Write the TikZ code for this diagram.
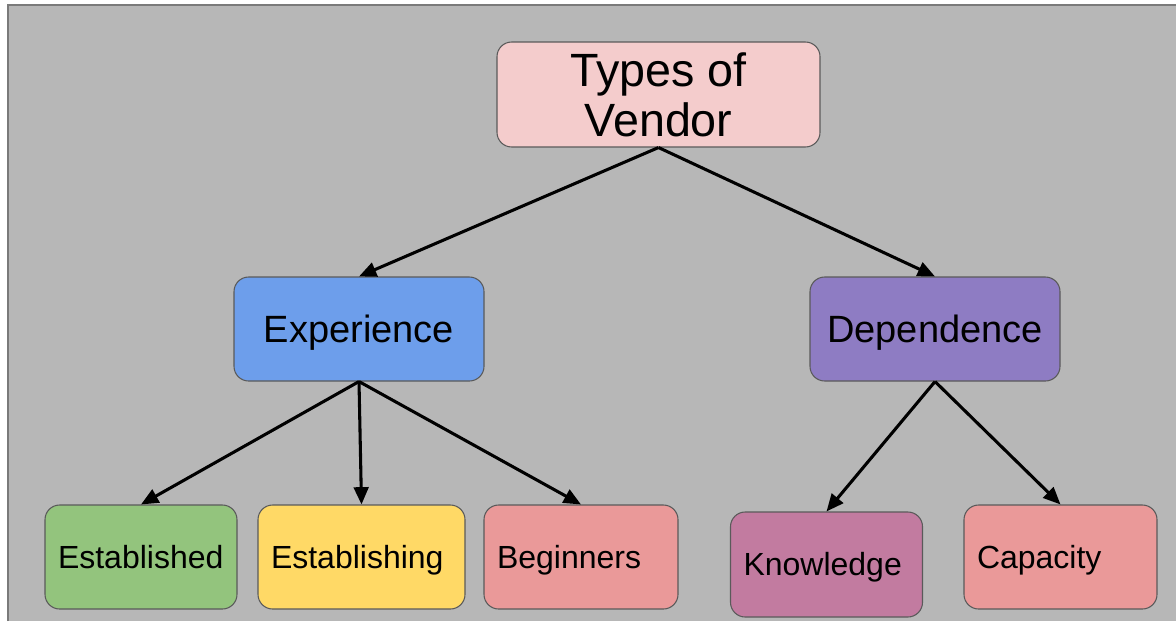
\documentclass[tikz,border=0pt]{standalone}
\usepackage{fontspec}
\setmainfont{Liberation Sans}
\usetikzlibrary{arrows.meta}
\definecolor{bg}{HTML}{B7B7B7}
\definecolor{frameline}{HTML}{7A7A7A}
\definecolor{boxline}{HTML}{5A5A5A}
\definecolor{rootfill}{HTML}{F4CCCC}
\definecolor{expfill}{HTML}{6D9EEB}
\definecolor{depfill}{HTML}{8E7CC3}
\definecolor{greenfill}{HTML}{93C47D}
\definecolor{yellowfill}{HTML}{FFD966}
\definecolor{redfill}{HTML}{EA9999}
\definecolor{magentafill}{HTML}{C27BA0}
\tikzset{
  box/.style={draw=boxline, line width=0.8pt, rounded corners=11pt, text=black},
  rootbox/.style={box, fill=rootfill, minimum width=242.25pt, minimum height=78.75pt,
    align=center, font=\fontsize{35}{37.5}\selectfont, inner sep=0pt},
  midbox/.style={box, minimum width=187.5pt, minimum height=78pt,
    text height=20.4pt, text depth=0pt,
    font=\fontsize{28.5}{32}\selectfont},
  leafbox/.style={box, minimum height=78pt, inner xsep=9.75pt, align=left,
    text height=17.2pt, text depth=0pt,
    font=\fontsize{24}{28}\selectfont},
  link/.style={line width=2.3pt, -{Triangle[length=13pt,width=11pt]}}
}
\begin{document}
\begin{tikzpicture}[x=0.75pt,y=-0.75pt]
  \useasboundingbox (0,0) rectangle (1176,621);
  % canvas
  \fill[bg] (8,5) rectangle (1176,621);
  \draw[frameline, line width=1.5pt] (8,621) -- (8,5) -- (1176,5);

  % nodes
  \node[rootbox] (root) at (658.5,94.5) {Types of\\Vendor};
  \node[midbox, fill=expfill] (exp) at (359,329) {Experience};
  \node[midbox, fill=depfill] (dep) at (935,329) {Dependence};

  \node[leafbox, fill=greenfill, text width=124.5pt] (estd) at (141,557) {Established};
  \node[leafbox, fill=yellowfill, text width=135.75pt] (estg) at (361.5,557) {Establishing};
  \node[leafbox, fill=redfill, text width=126pt] (beg) at (581,557) {Beginners};
  \node[leafbox, fill=magentafill, text width=124.5pt, minimum height=78.75pt] (know) at (826.5,564.5) {Knowledge};
  \node[leafbox, fill=redfill, text width=125.25pt] (cap) at (1060.5,557) {Capacity};

  % connectors
  \draw[link] (root.south) -- (exp.north);
  \draw[link] (root.south) -- (dep.north);
  \draw[link] (exp.south) -- (estd.north);
  \draw[link] (exp.south) -- (estg.north);
  \draw[link] (exp.south) -- (beg.north);
  \draw[link] (dep.south) -- (know.north);
  \draw[link] (dep.south) -- (cap.north);
\end{tikzpicture}
\end{document}
